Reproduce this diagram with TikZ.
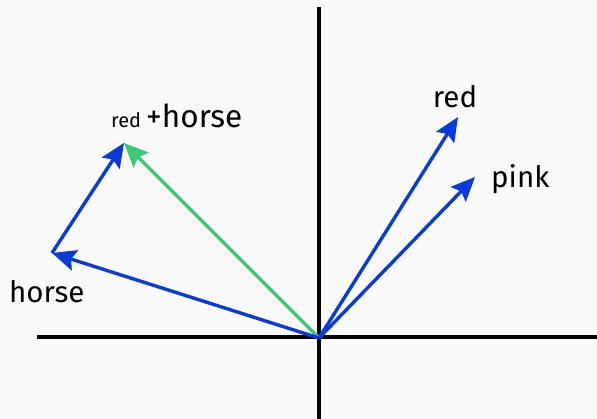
\documentclass[tikz,border=0pt]{standalone}
\usepackage{fontspec}
\setmainfont{Fira Sans}
\usetikzlibrary{arrows.meta}
\definecolor{vblue}{HTML}{0A3AD8}
\definecolor{vgreen}{HTML}{3CC878}
\definecolor{bg}{HTML}{FAFAFA}
\begin{document}
\begin{tikzpicture}[x=1pt,y=-1pt,
  axis/.style={line width=3.3pt,black},
  vec/.style={line width=3.4pt,-{Stealth[length=24pt,width=21pt,inset=4pt]}},
  lab/.style={font=\fontsize{29.5}{32}\selectfont,inner sep=0pt,anchor=base}]
\fill[bg] (0,0) rectangle (597,419);
\useasboundingbox (0,0) rectangle (597,419);
\coordinate (O) at (319,338);
\coordinate (xl) at (37,337);
\coordinate (xr) at (597,337);
\coordinate (yt) at (319,7);
\coordinate (yb) at (319,419);
\coordinate (R) at (458,117);
\coordinate (P) at (475,177);
\coordinate (H) at (52,253);
\coordinate (RH) at (124,143);
\draw[axis] (xl) -- (xr);
\draw[axis] (yt) -- (yb);
\draw[vec,vgreen] (O) -- (RH);
\draw[vec,vblue] (O) -- (R);
\draw[vec,vblue] (O) -- (P);
\draw[vec,vblue] (O) -- (H);
\draw[vec,vblue] (H) -- (RH);
\node[lab] (lr) at (455,108) {red};
\node[lab,anchor=base west] (lp) at (491,188) {pink};
\node[lab,anchor=base west] (lh) at (9,303) {horse};
\node[inner sep=0pt,anchor=base west,font=\fontsize{20}{23}\selectfont] (lsr) at (111,128) {red};
\node[inner sep=0pt,anchor=base west,font=\fontsize{31.5}{34}\selectfont] (lph) at (146,128) {+horse};
\end{tikzpicture}
\end{document}
